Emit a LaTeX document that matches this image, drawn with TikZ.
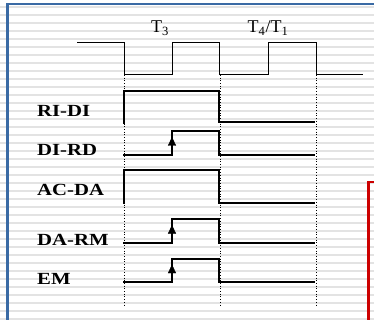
\documentclass[tikz,border=0pt]{standalone}
\usepackage{fontspec}
\setmainfont{Liberation Serif}
\definecolor{stripe}{HTML}{E3E3E3}
\definecolor{frameblue}{HTML}{3A6AA4}
\definecolor{framered}{HTML}{CC0000}
\tikzset{
  sig/.style={line width=2pt, line cap=rect, line join=miter},
  clk/.style={line width=1pt},
  guide/.style={line width=0.7pt, dotted},
  siglabel/.style={anchor=base west, inner sep=0pt, font=\fontsize{17}{20}\selectfont\bfseries},
  phase/.style={anchor=base, inner sep=0pt, font=\fontsize{18}{20}\selectfont},
  headtri/.style={fill=black, draw=black, line width=0.4pt, line join=miter}
}
\newcommand{\uphead}[2]{\fill[headtri] (#1,#2) -- (#1-3.8,#2+8) -- (#1+3.8,#2+8) -- cycle;}
\begin{document}
\begin{tikzpicture}[x=1pt,y=-1pt]
\useasboundingbox (0,0) rectangle (374,320);
\fill[white] (0,0) rectangle (374,320);
\foreach \yy in {6,14,...,318} \fill[stripe] (0,\yy) rectangle (374,\yy+2);
% frames
\draw[frameblue, line width=2.6pt] (7.5,330) -- (7.5,4) -- (380,4);
\draw[framered, line width=2.3pt] (368.5,330) -- (368.5,182) -- (380,182);
% clock
\draw[clk] (77,43) -- (124,43) -- (124,75) -- (172,75) -- (172,43) -- (219,43) -- (219,75)
  -- (268,75) -- (268,43) -- (316,43) -- (316,75) -- (363,75);
\node[phase] (t3) at (160,33) {T\textsubscript{3}};
\node[phase] (t41) at (268,33) {T\textsubscript{4}/T\textsubscript{1}};
% guides
\draw[guide] (124,75) -- (124,307);
\draw[guide] (220,75) -- (220,307);
\draw[guide] (316,75) -- (316,307);
% labels
\node[siglabel] (l1) at (37,116.5) {\scalebox{1.22}[1]{RI-DI}};
\node[siglabel] (l2) at (37,156) {\scalebox{1.22}[1]{DI-RD}};
\node[siglabel] (l3) at (37,196) {\scalebox{1.22}[1]{AC-DA}};
\node[siglabel] (l4) at (37,245) {\scalebox{1.22}[1]{DA-RM}};
\node[siglabel] (l5) at (37,284.5) {\scalebox{1.22}[1]{EM}};
% RI-DI
\draw[sig] (124,123) -- (124,91) -- (219,91) -- (219,122) -- (314,122);
% DI-RD
\draw[sig] (124,155) -- (172,155) -- (172,131) -- (219,131) -- (219,155) -- (314,155);
\uphead{172}{137.5}
% AC-DA
\draw[sig] (124,203) -- (124,170.5) -- (219,170.5) -- (219,202.5) -- (314,202.5);
% DA-RM
\draw[sig] (124,242.5) -- (172,242.5) -- (172,219) -- (219,219) -- (219,242.5) -- (314,242.5);
\uphead{172}{225.5}
% EM
\draw[sig] (124,282) -- (172,282) -- (172,259) -- (219,259) -- (219,282) -- (314,282);
\uphead{172}{265}
\end{tikzpicture}
\end{document}
